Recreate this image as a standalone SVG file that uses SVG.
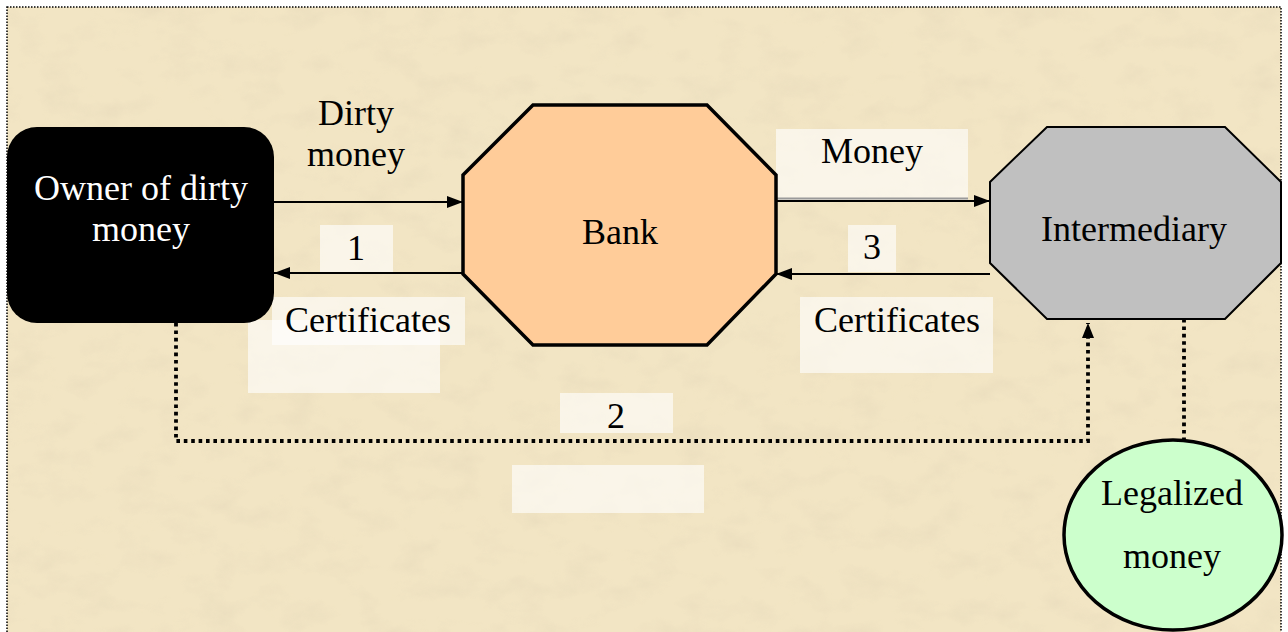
<svg xmlns="http://www.w3.org/2000/svg" width="1288" height="632" viewBox="0 0 1288 632">
  <defs>
    <!-- parchment grain for the sheet -->
    <filter id="parchment" x="0" y="0" width="100%" height="100%">
      <feTurbulence type="fractalNoise" baseFrequency="0.025 0.04" numOctaves="4" seed="7" result="n"/>
      <feColorMatrix in="n" type="matrix" values="0 0 0 0 0.80  0 0 0 0 0.70  0 0 0 0 0.50  0 0 0 -2 1.1" result="tint"/>
      <feComposite in="tint" in2="SourceGraphic" operator="in"/>
    </filter>
    <marker id="arrow" viewBox="0 0 16 12" refX="16" refY="6" markerWidth="16" markerHeight="12" markerUnits="userSpaceOnUse" orient="auto">
      <path d="M0,0 L16,6 L0,12 Z" fill="#000"/>
    </marker>
    <marker id="arrowDot" viewBox="0 0 15 12" refX="15" refY="6" markerWidth="15" markerHeight="12" markerUnits="userSpaceOnUse" orient="auto">
      <path d="M0,0 L15,6 L0,12 Z" fill="#000"/>
    </marker>
  </defs>
  <style>
    text { font-family: "Liberation Serif", "Times New Roman", serif; font-size: 36px; fill: #000; text-anchor: middle; }
    .white { fill: #fff; }
    .tag { fill: #fff; fill-opacity: 0.62; }
    .flow { fill: none; stroke: #000; stroke-width: 1.8; }
    .dots { fill: none; stroke: #000; stroke-width: 3.8; stroke-dasharray: 3.6 3.8; }
  </style>

  <!-- sheet -->
  <rect x="0" y="0" width="1288" height="632" fill="#fff"/>
  <rect x="7" y="7" width="1274" height="630" fill="#F2E5C4"/>
  <rect x="7" y="7" width="1274" height="630" fill="#F2E5C4" filter="url(#parchment)" opacity="0.6"/>
  <rect x="7" y="7" width="1274" height="630" fill="none" stroke="#000" stroke-width="1.5" stroke-dasharray="1.5 1.5"/>

  <!-- label backdrops -->
  <g id="label-backdrops">
    <rect class="tag" x="320" y="225" width="73" height="47"/>
    <rect class="tag" x="248" y="320" width="192" height="73"/>
    <rect class="tag" x="272" y="297" width="193" height="48"/>
    <rect class="tag" x="776" y="129" width="192" height="71"/>
    <rect class="tag" x="848" y="225" width="48" height="47"/>
    <rect class="tag" x="800" y="297" width="193" height="76"/>
    <rect class="tag" x="560" y="393" width="113" height="40"/>
    <rect class="tag" x="512" y="465" width="192" height="48"/>
  </g>

  <!-- connectors -->
  <g id="connectors">
    <line class="flow" x1="274" y1="202" x2="463" y2="202" marker-end="url(#arrow)"/>
    <line class="flow" x1="463" y1="273" x2="274" y2="273" marker-end="url(#arrow)"/>
    <line x1="776" y1="198.5" x2="968" y2="198.5" stroke="#9a9a9a" stroke-width="2"/>
    <line class="flow" x1="776" y1="201" x2="990" y2="201" stroke-width="2.4" marker-end="url(#arrow)"/>
    <line class="flow" x1="990" y1="274" x2="776" y2="274" marker-end="url(#arrow)"/>
    <path class="dots" d="M176,323 V441 H1088 V323" marker-end="url(#arrowDot)"/>
    <line class="dots" x1="1184" y1="319" x2="1184" y2="440"/>
  </g>

  <!-- connector labels -->
  <g id="connector-labels">
    <text x="356" y="125">Dirty</text>
    <text x="356" y="166">money</text>
    <text x="356" y="260">1</text>
    <text x="368" y="332">Certificates</text>
    <text x="872" y="163">Money</text>
    <text x="872" y="259">3</text>
    <text x="897" y="332">Certificates</text>
    <text x="616" y="428">2</text>
  </g>

  <g id="owner">
    <rect x="7" y="127" width="267" height="196" rx="30" ry="30" fill="#000"/>
    <text class="white" x="141" y="200">Owner of dirty</text>
    <text class="white" x="141" y="241">money</text>
  </g>

  <g id="bank">
    <polygon points="533,105 707,105 776,175 776,274 707,345 533,345 463,274 463,175" fill="#FFCC99" stroke="#000" stroke-width="3.5"/>
    <text x="620" y="244">Bank</text>
  </g>

  <g id="intermediary">
    <polygon points="1047,127 1225,127 1281,182 1281,263 1225,319 1047,319 990,263 990,182" fill="#C0C0C0" stroke="#000" stroke-width="2"/>
    <text x="1134" y="241">Intermediary</text>
  </g>

  <g id="legalized">
    <ellipse cx="1173" cy="535" rx="109" ry="95" fill="#CCFFCC" stroke="#000" stroke-width="3.5"/>
    <text x="1172" y="505">Legalized</text>
    <text x="1172" y="568">money</text>
  </g>
</svg>
